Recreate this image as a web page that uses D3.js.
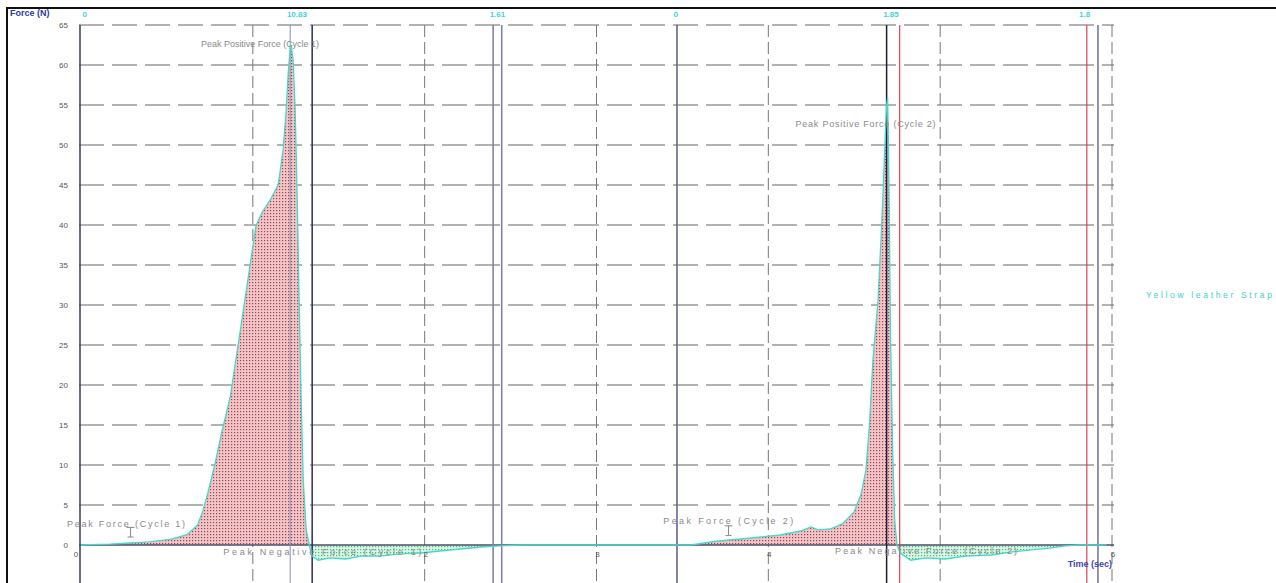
<!DOCTYPE html>
<html>
<head>
<meta charset="utf-8">
<script src="https://cdn.jsdelivr.net/npm/d3@7"></script>
<style>
  body { margin: 0; background: #fff; }
  text { font-family: "Liberation Sans", Arial, sans-serif; }
</style>
</head>
<body>
<script>
var width = 1276;
var height = 583;

// time (sec) / force (N)
var time = [0, 0.18, 0.30, 0.41, 0.53, 0.63, 0.69, 0.72, 0.75, 0.79, 0.83, 0.88, 0.94, 1.00, 1.03,
            1.066, 1.112, 1.159, 1.188, 1.206, 1.217, 1.229, 1.235, 1.246, 1.258, 1.270, 1.281, 1.293,
            1.305, 1.322, 1.34, 1.357, 1.392, 1.46, 1.55, 1.64, 1.75, 1.87, 1.99, 2.10, 2.22, 2.34,
            2.45, 2.57, 3.0, 3.56, 3.72, 3.85, 3.97, 4.08, 4.20, 4.26, 4.30, 4.37, 4.44, 4.51, 4.55,
            4.58, 4.60, 4.62, 4.65, 4.67, 4.68, 4.69, 4.70, 4.706, 4.71, 4.716, 4.722, 4.735, 4.747,
            4.76, 4.78, 4.84, 4.93, 5.04, 5.16, 5.31, 5.42, 5.54, 5.65, 5.74, 5.83, 5.98];
var force = [0, 0.1, 0.25, 0.4, 0.7, 1.3, 2.5, 4.2, 6.5, 10, 14, 18.5, 27, 35.6, 39.9,
             41.6, 43.1, 45, 49.4, 54.4, 58.8, 62.1, 62.5, 60.6, 54.4, 43.1, 30.6, 18.1,
             8.1, 1.9, 0, -1.4, -1.9, -1.6, -1.75, -1.4, -1.4, -1.1, -1.0, -0.75, -0.5, -0.25,
             -0.1, 0, 0, 0, 0.5, 0.75, 1.0, 1.25, 1.75, 2.25, 1.9, 2.0, 2.6, 4.1, 6.25,
             9.4, 15, 23, 30.6, 39.4, 44.4, 50, 55, 55.9, 50.6, 40.6, 26.9, 11.9, 3.1,
             0, -1, -1.9, -1.6, -1.75, -1.4, -1.25, -0.9, -0.6, -0.4, -0.1, 0, 0];

var yTicks = [0, 5, 10, 15, 20, 25, 30, 35, 40, 45, 50, 55, 60, 65];
var xGrid = [1, 2, 3, 4, 5, 6];
var xLabels = [0, 2, 3, 4, 6];   // 1 and 5 are hidden under the notes

// cursor lines
var cursors = [
  {t: 1.229, color: "#8890b0", w: 1},
  {t: 1.357, color: "#2a2e60", w: 1.5},
  {t: 2.41, color: "#7d7aa0", w: 1.5},
  {t: 2.46, color: "#7d7aa0", w: 1.5},
  {t: 3.48, color: "#5a5c8a", w: 1.5},
  {t: 4.70, color: "#1d1f3a", w: 1.5},
  {t: 4.776, color: "#d9434f", w: 1.2},
  {t: 5.865, color: "#d9434f", w: 1.2},
  {t: 5.93, color: "#6e6e9a", w: 1.5}
];
var cursorLabels = [
  {t: 0.02, text: "0"},
  {t: 1.21, text: "10.83"},
  {t: 2.39, text: "1.61"},
  {t: 3.46, text: "0"},
  {t: 4.68, text: "1.85"},
  {t: 5.82, text: "1.8"}
];
var notes = [
  {t: 0.71, f: 62.3, text: "Peak Positive Force (Cycle 1)", len: 118},
  {t: 4.17, f: 52.3, text: "Peak Positive Force (Cycle 2)", len: 140},
  {t: -0.07, f: 2.3, text: "Peak Force (Cycle 1)", len: 118},
  {t: 3.40, f: 2.6, text: "Peak Force (Cycle 2)", len: 130},
  {t: 0.84, f: -1.2, text: "Peak Negative Force (Cycle 1)", len: 198},
  {t: 4.40, f: -1.1, text: "Peak Negative Force (Cycle 2)", len: 182}
];
var errMarks = [{t: 0.30, lo: 1.0, hi: 2.2}, {t: 3.78, lo: 1.2, hi: 2.4}];

var svg = d3.select("body").append("svg")
  .attr("width", width)
  .attr("height", height);

var xScale = d3.scaleLinear().domain([0, 6]).range([79, 1110]);
var yScale = d3.scaleLinear().domain([-5, 65]).range([585, 25]);

var defs = svg.append("defs");
var pos = defs.append("pattern").attr("id", "posFill")
  .attr("patternUnits", "userSpaceOnUse").attr("width", 3).attr("height", 3);
pos.append("rect").attr("width", 3).attr("height", 3).attr("fill", "#f4c4c6");
pos.append("rect").attr("width", 1.2).attr("height", 1.2).attr("fill", "#8f4656");
var neg = defs.append("pattern").attr("id", "negFill")
  .attr("patternUnits", "userSpaceOnUse").attr("width", 3).attr("height", 3);
neg.append("rect").attr("width", 3).attr("height", 3).attr("fill", "#d6f6ec");
neg.append("rect").attr("width", 1.2).attr("height", 1.2).attr("fill", "#56b862");

// outer frame
svg.append("rect").attr("x", 7).attr("y", 8).attr("width", 1290).attr("height", 590)
  .attr("fill", "none").attr("stroke", "#111").attr("stroke-width", 2);

var x0 = xScale(0), x1 = 1114;

// horizontal grid
svg.append("g").selectAll("line").data(yTicks.filter(function(d){ return d !== 0; }))
  .enter().append("line")
  .attr("x1", x0).attr("x2", x1)
  .attr("y1", function(d){ return yScale(d); })
  .attr("y2", function(d){ return yScale(d); })
  .attr("stroke", "#666").attr("stroke-width", 1)
  .attr("stroke-dasharray", "25,8");

// vertical grid
svg.append("g").selectAll("line").data(xGrid)
  .enter().append("line")
  .attr("x1", function(d){ return xScale(d) + 2; })
  .attr("x2", function(d){ return xScale(d) + 2; })
  .attr("y1", yScale(65)).attr("y2", height)
  .attr("stroke", "#777").attr("stroke-width", 1)
  .attr("stroke-dasharray", "12,5");

var pts = time.map(function(t, i){ return [t, force[i]]; });

// positive and negative fills
var areaPos = d3.area()
  .x(function(d){ return xScale(d[0]); })
  .y0(yScale(0))
  .y1(function(d){ return yScale(Math.max(0, d[1])); });
var areaNeg = d3.area()
  .x(function(d){ return xScale(d[0]); })
  .y0(yScale(0))
  .y1(function(d){ return yScale(Math.min(0, d[1])); });
svg.append("path").datum(pts).attr("d", areaPos).attr("fill", "url(#posFill)");
svg.append("path").datum(pts).attr("d", areaNeg).attr("fill", "url(#negFill)");

// zero line
svg.append("line").attr("x1", x0).attr("x2", x1)
  .attr("y1", yScale(0)).attr("y2", yScale(0))
  .attr("stroke", "#4a4e6a").attr("stroke-width", 1.5);

// cursors
svg.append("g").selectAll("line").data(cursors).enter().append("line")
  .attr("x1", function(d){ return xScale(d.t); })
  .attr("x2", function(d){ return xScale(d.t); })
  .attr("y1", yScale(65)).attr("y2", height)
  .attr("stroke", function(d){ return d.color; })
  .attr("stroke-width", function(d){ return d.w; });

// trace
var line = d3.line()
  .x(function(d){ return xScale(d[0]); })
  .y(function(d){ return yScale(d[1]); });
svg.append("path").datum(pts).attr("d", line)
  .attr("fill", "none").attr("stroke", "#46d8c8").attr("stroke-width", 1.3);

// left axis line
svg.append("line").attr("x1", x0 + 1).attr("x2", x0 + 1)
  .attr("y1", yScale(65)).attr("y2", height)
  .attr("stroke", "#3a3c55").attr("stroke-width", 1.5);

// y tick labels
svg.append("g").selectAll("text").data(yTicks).enter().append("text")
  .attr("x", 68).attr("y", function(d){ return yScale(d) + 3; })
  .attr("text-anchor", "end")
  .attr("font-size", 8).attr("fill", "#555")
  .text(function(d){ return d; });

// x tick labels
svg.append("g").selectAll("text").data(xLabels).enter().append("text")
  .attr("x", function(d){ return xScale(d) + (d === 0 ? -3 : 3); })
  .attr("y", yScale(0) + 12)
  .attr("text-anchor", "middle")
  .attr("font-size", 8).attr("fill", "#555")
  .text(function(d){ return d; });

// axis titles
svg.append("text").attr("x", 10).attr("y", 16)
  .attr("font-size", 9).attr("font-weight", "bold").attr("fill", "#2b3aa8")
  .text("Force (N)");
svg.append("text").attr("x", 1112).attr("y", 567).attr("text-anchor", "end")
  .attr("font-size", 9).attr("font-weight", "bold").attr("fill", "#3b48b8")
  .text("Time (sec)");

// cursor values
svg.append("g").selectAll("text").data(cursorLabels).enter().append("text")
  .attr("x", function(d){ return xScale(d.t); })
  .attr("y", 17)
  .attr("font-size", 8).attr("font-weight", "bold").attr("fill", "#40d4d8")
  .text(function(d){ return d.text; });

// annotations
svg.append("g").selectAll("text").data(notes).enter().append("text")
  .attr("x", function(d){ return xScale(d.t); })
  .attr("y", function(d){ return yScale(d.f); })
  .attr("font-size", 9).attr("fill", "#8a8a8a")
  .attr("textLength", function(d){ return d.len; })
  .attr("lengthAdjust", "spacing")
  .text(function(d){ return d.text; });

// small error marks
var em = svg.append("g").attr("stroke", "#888").attr("stroke-width", 1);
errMarks.forEach(function(d){
  var cx = xScale(d.t);
  em.append("line").attr("x1", cx).attr("x2", cx).attr("y1", yScale(d.lo)).attr("y2", yScale(d.hi));
  em.append("line").attr("x1", cx - 4).attr("x2", cx + 4).attr("y1", yScale(d.hi)).attr("y2", yScale(d.hi));
  em.append("line").attr("x1", cx - 3).attr("x2", cx + 3).attr("y1", yScale(d.lo)).attr("y2", yScale(d.lo));
});

// legend
svg.append("text").attr("x", 1146).attr("y", 298)
  .attr("font-size", 8.5).attr("fill", "#3fd0c6")
  .attr("textLength", 126).attr("lengthAdjust", "spacing")
  .text("Yellow leather Strap");
</script>
</body>
</html>
